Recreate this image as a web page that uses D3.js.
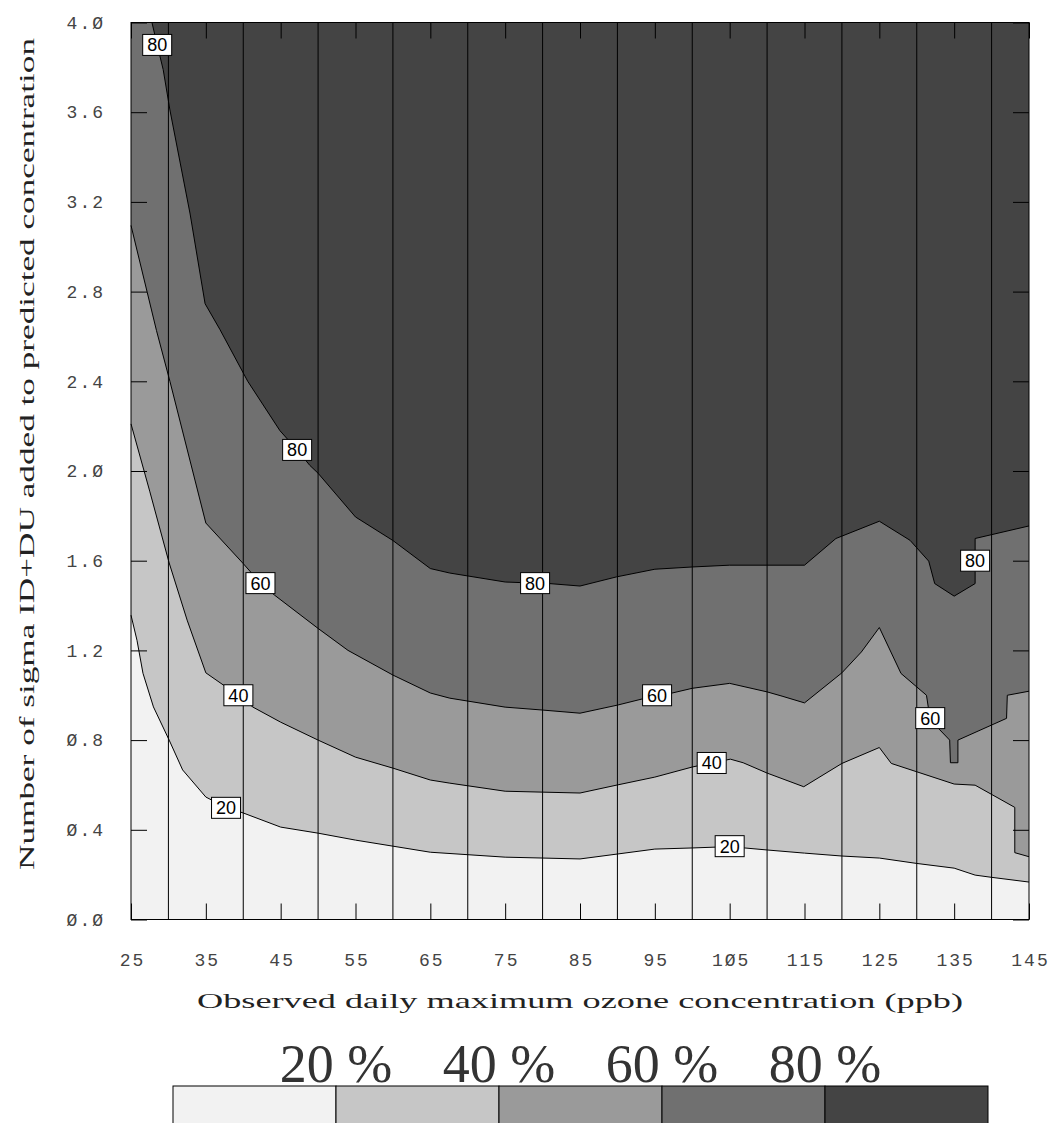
<!DOCTYPE html>
<meta charset="utf-8">
<title>Ozone contour</title>
<style>
  body { margin: 0; background: white; }
  .tick text { font-family: "Liberation Mono", monospace; font-size: 18px; fill: #444; letter-spacing: 2px; }
  .tick line { stroke: black; stroke-width: 1; }
  .title { font-family: "Liberation Serif", serif; font-size: 22px; fill: #222; }
  .legend-label { font-family: "Liberation Serif", serif; font-size: 54px; fill: #333; }
  .clabel { font-family: "Liberation Sans", sans-serif; font-size: 18px; fill: black; }
</style>
<body>
<div id="chart"></div>
<script src="https://d3js.org/d3.v7.min.js"></script>
<script>
// contour levels (percent) and band colours
const levels = [20, 40, 60, 80];
const bandColors = ["#f2f2f2", "#c6c6c6", "#9a9a9a", "#707070", "#444444"];

// tick values
const xTicks = [25, 35, 45, 55, 65, 75, 85, 95, 105, 115, 125, 135, 145];
const xGrid = [30, 40, 50, 60, 70, 80, 90, 100, 110, 120, 130, 140];
const yTicks = [0, 0.4, 0.8, 1.2, 1.6, 2.0, 2.4, 2.8, 3.2, 3.6, 4.0];

// contour lines: [ozone ppb, sigma]
const c20 = [[25, 1.357], [25.8, 1.245], [26.6, 1.098], [28, 0.948], [30.1, 0.80], [31.9, 0.667],
  [35, 0.546], [37.7, 0.50], [40, 0.475], [45, 0.412], [50, 0.385], [55, 0.354], [60, 0.327],
  [65, 0.30], [75, 0.278], [85, 0.27], [90, 0.292], [95, 0.314], [100, 0.319], [105, 0.325],
  [110, 0.31], [115, 0.296], [120, 0.283], [125, 0.274], [130, 0.25], [135, 0.229],
  [137.8, 0.198], [140, 0.188], [145, 0.167]];
const c40 = [[25, 2.21], [27.5, 1.91], [30.1, 1.59], [32.5, 1.335], [35, 1.10], [39.3, 1.0],
  [41.3, 0.947], [45, 0.88], [50, 0.80], [55, 0.724], [60, 0.675], [65, 0.622], [67.6, 0.608],
  [75, 0.572], [80, 0.568], [85, 0.564], [90, 0.60], [95, 0.635], [100, 0.68], [102.6, 0.698],
  [105.1, 0.715], [106.8, 0.699], [110, 0.653], [114.9, 0.592], [120, 0.696], [125, 0.767],
  [126.6, 0.696], [135, 0.604], [137.8, 0.599], [143.1, 0.50], [143.1, 0.298], [145, 0.28]];
const c60 = [[25, 3.095], [28.4, 2.627], [30.2, 2.40], [35, 1.768], [40, 1.587], [42.3, 1.50],
  [44.2, 1.446], [50, 1.298], [54, 1.20], [60, 1.09], [65, 1.01], [67.6, 0.987], [75, 0.947],
  [80, 0.934], [85, 0.92], [90, 0.956], [95.3, 1.0], [97.2, 1.009], [100, 1.031], [105, 1.053],
  [110, 1.015], [112, 0.996], [115, 0.966], [120, 1.10], [122.6, 1.193], [125, 1.302],
  [127.9, 1.097], [131.3, 1.0], [131.6, 0.934], [132.9, 0.852], [134.4, 0.80], [134.5, 0.699],
  [135.5, 0.699], [135.5, 0.80], [142, 0.897], [142.1, 1.0], [145, 1.018]];
const c80 = [[27.8, 4.0], [28.5, 3.9], [29.3, 3.79], [30.2, 3.61], [32.9, 3.146], [34.9, 2.746],
  [36.9, 2.63], [40.6, 2.40], [44.9, 2.18], [47.2, 2.094], [48.9, 2.025], [50, 1.99], [55, 1.795],
  [60, 1.69], [65, 1.565], [67.6, 1.545], [75, 1.505], [79, 1.50], [80.9, 1.498], [85, 1.487],
  [89.9, 1.528], [95, 1.562], [100, 1.572], [105, 1.58], [115, 1.58], [119.2, 1.699], [125, 1.776],
  [129.1, 1.691], [131.6, 1.598], [132.4, 1.498], [135, 1.442], [137.8, 1.498], [137.8, 1.699],
  [145, 1.755]];
const contourLines = [c20, c40, c60, c80];

// in-line contour labels
const contourLabels = [
  {level: 80, x: 28.5, y: 3.9}, {level: 80, x: 47.2, y: 2.094}, {level: 80, x: 79, y: 1.5},
  {level: 80, x: 137.8, y: 1.6}, {level: 60, x: 42.3, y: 1.5}, {level: 60, x: 95.3, y: 1.0},
  {level: 60, x: 131.8, y: 0.898}, {level: 40, x: 39.35, y: 1.0}, {level: 40, x: 102.6, y: 0.698},
  {level: 20, x: 37.7, y: 0.498}, {level: 20, x: 105, y: 0.327}
];

const W = 1049, H = 1123;
const svg = d3.select("#chart").append("svg")
  .attr("width", W).attr("height", H);

const x = d3.scaleLinear().domain([25, 145]).range([131, 1029]);
const y = d3.scaleLinear().domain([0, 4]).range([919.5, 22.5]);

const line = d3.line().x(d => x(d[0])).y(d => y(d[1]));

// background = top band
svg.append("rect")
  .attr("x", x(25)).attr("y", y(4))
  .attr("width", x(145) - x(25)).attr("height", y(0) - y(4))
  .attr("fill", bandColors[4]);

// fill the area under each contour, highest level first
for (let i = levels.length - 1; i >= 0; i--) {
  const pts = contourLines[i];
  const poly = pts.concat([[145, 0], [25, 0], [25, pts[0][1]]]);
  svg.append("path")
    .attr("d", line(poly) + "Z")
    .attr("fill", bandColors[i]);
}

// vertical grid lines
svg.append("g").selectAll("line")
  .data(xGrid).join("line")
    .attr("x1", d => x(d)).attr("x2", d => x(d))
    .attr("y1", y(0)).attr("y2", y(4))
    .attr("stroke", "black").attr("stroke-width", 1);

// contour lines
svg.append("g").selectAll("path")
  .data(contourLines).join("path")
    .attr("d", d => line(d))
    .attr("fill", "none")
    .attr("stroke", "black")
    .attr("stroke-width", 1);

const fmt = s => s.replace(/0/g, "Ø");

// axes
const xAxis = svg.append("g")
  .attr("transform", `translate(0,${y(0)})`)
  .call(d3.axisBottom(x).tickValues(xTicks).tickSize(-16).tickPadding(34)
    .tickFormat(d => fmt(String(d))));
svg.append("g")
  .attr("transform", `translate(0,${y(4)})`)
  .call(d3.axisTop(x).tickValues(xTicks).tickSize(-16).tickFormat(""));
svg.append("g")
  .attr("transform", `translate(${x(25)},0)`)
  .call(d3.axisLeft(y).tickValues(yTicks).tickSize(-16).tickPadding(26)
    .tickFormat(d => fmt(d.toFixed(1))));
svg.append("g")
  .attr("transform", `translate(${x(145)},0)`)
  .call(d3.axisRight(y).tickValues(yTicks).tickSize(-16).tickFormat(""));
svg.selectAll(".domain").remove();
xAxis.selectAll("text").attr("dx", "1px");

// frame
svg.append("rect")
  .attr("x", x(25)).attr("y", y(4))
  .attr("width", x(145) - x(25)).attr("height", y(0) - y(4))
  .attr("fill", "none").attr("stroke", "black").attr("stroke-width", 1);

// contour labels
const lab = svg.append("g").selectAll("g")
  .data(contourLabels).join("g")
    .attr("transform", d => `translate(${x(d.x)},${y(d.y)})`);
lab.append("rect")
  .attr("x", -14.5).attr("y", -10.5).attr("width", 29).attr("height", 21)
  .attr("fill", "white").attr("stroke", "black").attr("stroke-width", 1);
lab.append("text")
  .attr("class", "clabel")
  .attr("text-anchor", "middle")
  .attr("dy", "0.36em")
  .text(d => d.level);

// axis titles
svg.append("text")
  .attr("class", "title")
  .attr("x", 580).attr("y", 1008)
  .attr("text-anchor", "middle")
  .attr("textLength", 766).attr("lengthAdjust", "spacingAndGlyphs")
  .text("Observed daily maximum ozone concentration (ppb)");
svg.append("text")
  .attr("class", "title")
  .attr("transform", "translate(34,454) rotate(-90)")
  .attr("text-anchor", "middle")
  .attr("textLength", 832).attr("lengthAdjust", "spacingAndGlyphs")
  .text("Number of sigma ID+DU added to predicted concentration");

// legend
const lx = d3.scaleLinear().domain([0, bandColors.length]).range([173, 988]);
svg.append("g").selectAll("rect")
  .data(bandColors).join("rect")
    .attr("x", (d, i) => lx(i)).attr("y", 1086)
    .attr("width", lx(1) - lx(0)).attr("height", 40)
    .attr("fill", d => d)
    .attr("stroke", "black").attr("stroke-width", 1);
svg.append("g").selectAll("text")
  .data(levels).join("text")
    .attr("class", "legend-label")
    .attr("x", (d, i) => lx(i + 1)).attr("y", 1082)
    .attr("text-anchor", "middle")
    .text(d => `${d} %`);
</script>
</body>
